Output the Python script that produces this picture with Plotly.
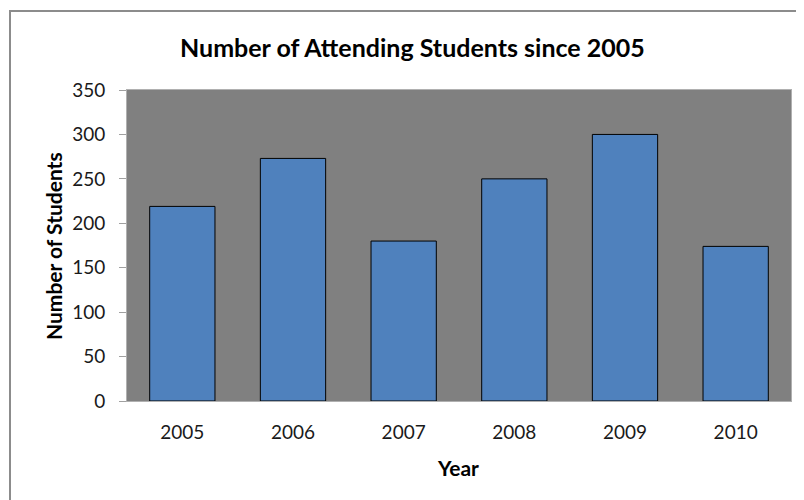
import plotly.graph_objects as go

years = ["2005", "2006", "2007", "2008", "2009", "2010"]
students = [219, 273, 180, 250, 300, 174]
y_ticks = [0, 50, 100, 150, 200, 250, 300, 350]

FONT = "Lato"
OFF = 8  # page body margin
L, T, W, H = 127 - OFF, 90 - OFF, 664, 311
FW, FH = 804, 500


def px_x(px):
    return (px - OFF - L) / W


def px_y(py):
    return (T + H - (py - OFF)) / H


fig = go.Figure()
fig.add_trace(go.Bar(
    x=years, y=students,
    marker=dict(color="#4F81BD", line=dict(color="#000000", width=1)),
    width=0.59,
))

fig.update_layout(
    width=FW, height=FH,
    margin=dict(l=L, r=FW - L - W, t=T, b=FH - T - H, autoexpand=False),
    paper_bgcolor="white",
    plot_bgcolor="#808080",
    showlegend=False,
    font=dict(family=FONT, color="#000000"),
)
fig.update_xaxes(
    type="category", automargin=False,
    showgrid=False,
    showline=True, linecolor="#B0B0B0", linewidth=1, mirror=True,
    ticks="", ticklabelstandoff=14,
    tickfont=dict(family=FONT, size=19, color="#1a1a1a"),
)
fig.update_yaxes(
    range=[0, 350], tickvals=y_ticks, automargin=False,
    showgrid=False, zeroline=False,
    showline=True, linecolor="#B0B0B0", linewidth=1, mirror=True,
    ticks="outside", ticklen=7, tickcolor="#A0A0A0",
    ticklabelstandoff=10,
    tickfont=dict(family=FONT, size=19, color="#1a1a1a"),
)

annotations = [
    dict(text="<b>Number of Attending Students since 2005</b>", x=px_x(412), y=px_y(47),
         font=dict(family=FONT, size=25, color="#000000"), textangle=0),
    dict(text="<b>Year</b>", x=px_x(458), y=px_y(467),
         font=dict(family=FONT, size=21, color="#000000"), textangle=0),
    dict(text="<b>Number of Students</b>", x=px_x(53), y=px_y(246),
         font=dict(family=FONT, size=21, color="#000000"), textangle=-90),
]
for a in annotations:
    fig.add_annotation(xref="paper", yref="paper", showarrow=False,
                       xanchor="center", yanchor="middle", **a)

fig.add_shape(type="rect", xref="paper", yref="paper",
              x0=px_x(10), x1=px_x(830), y0=px_y(520), y1=px_y(11),
              line=dict(color="#8C8C8C", width=2), fillcolor="rgba(0,0,0,0)", layer="below")

fig.write_html("out.html")
